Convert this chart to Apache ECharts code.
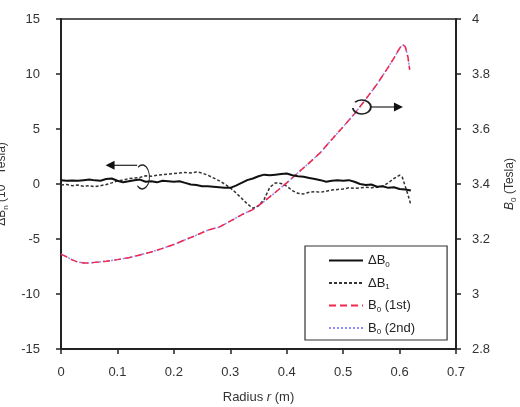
<!DOCTYPE html>
<html>
<head>
<meta charset="utf-8">
<script src="https://cdn.jsdelivr.net/npm/echarts@6/dist/echarts.min.js"></script>
<style>
html,body{margin:0;padding:0;background:#fff;}
#c{width:520px;height:407px;}
</style>
</head>
<body>
<div id="c"></div>
<script>
// Radius (m) and ΔB0 (10^-4 Tesla)
var rDB0 = [0,0.01,0.02,0.03,0.04,0.05,0.06,0.07,0.08,0.09,0.10,0.11,0.12,0.13,0.14,0.15,0.16,0.17,0.18,0.19,0.20,0.21,0.22,0.23,0.24,0.25,0.26,0.27,0.28,0.29,0.30,0.31,0.32,0.33,0.34,0.35,0.36,0.37,0.38,0.39,0.40,0.41,0.42,0.43,0.44,0.45,0.46,0.47,0.48,0.49,0.50,0.51,0.52,0.53,0.54,0.55,0.56,0.57,0.58,0.59,0.60,0.61,0.62];
var dB0 = [0.35,0.3,0.32,0.3,0.35,0.4,0.33,0.3,0.45,0.5,0.3,0.15,0.25,0.35,0.4,0.2,0.25,0.15,0.3,0.25,0.2,0.25,0.1,-0.05,-0.1,-0.2,-0.2,-0.25,-0.3,-0.35,-0.35,-0.15,0.1,0.35,0.5,0.7,0.85,0.8,0.85,0.9,0.95,0.8,0.7,0.65,0.55,0.45,0.35,0.2,0.3,0.35,0.3,0.35,0.2,0.0,-0.1,-0.05,-0.25,-0.2,-0.35,-0.3,-0.45,-0.5,-0.6];
// Radius (m) and ΔB1 (10^-4 Tesla)
var rDB1 = [0,0.01,0.02,0.03,0.04,0.05,0.06,0.07,0.08,0.09,0.10,0.11,0.12,0.13,0.14,0.15,0.16,0.17,0.18,0.19,0.20,0.21,0.22,0.23,0.24,0.25,0.26,0.27,0.28,0.29,0.30,0.31,0.32,0.33,0.34,0.35,0.36,0.37,0.38,0.39,0.40,0.41,0.42,0.43,0.44,0.45,0.46,0.47,0.48,0.49,0.50,0.51,0.52,0.53,0.54,0.55,0.56,0.57,0.58,0.59,0.60,0.605,0.61,0.615,0.62];
var dB1 = [-0.1,-0.05,-0.15,-0.1,-0.2,-0.15,-0.25,-0.15,-0.05,0.1,0.3,0.35,0.5,0.55,0.6,0.75,0.7,0.8,0.85,0.9,0.95,1.0,1.05,1.0,1.1,1.0,0.8,0.55,0.3,0.0,-0.35,-0.8,-1.3,-1.8,-2.2,-2.0,-1.4,-0.3,0.1,0.05,-0.2,-0.6,-0.85,-0.9,-0.75,-0.7,-0.75,-0.65,-0.55,-0.5,-0.45,-0.35,-0.4,-0.35,-0.3,-0.35,-0.3,-0.2,0.1,0.5,0.8,0.6,-0.2,-1.0,-1.9];
// Radius (m) and B0 (Tesla), first and second measurement
var rB0 = [0,0.01,0.02,0.03,0.04,0.05,0.06,0.08,0.10,0.12,0.14,0.16,0.18,0.20,0.22,0.24,0.26,0.28,0.30,0.32,0.34,0.36,0.38,0.40,0.42,0.44,0.46,0.48,0.50,0.52,0.54,0.56,0.58,0.59,0.60,0.605,0.61,0.615,0.618];
var b0First = [3.145,3.135,3.124,3.116,3.113,3.113,3.115,3.119,3.125,3.132,3.142,3.153,3.166,3.180,3.197,3.214,3.232,3.243,3.265,3.288,3.307,3.337,3.370,3.404,3.441,3.477,3.515,3.562,3.608,3.655,3.708,3.763,3.825,3.858,3.893,3.907,3.900,3.860,3.815];
var b0Second = [3.145,3.135,3.124,3.116,3.113,3.113,3.115,3.119,3.125,3.132,3.142,3.153,3.166,3.180,3.197,3.214,3.232,3.243,3.265,3.288,3.307,3.337,3.370,3.404,3.441,3.477,3.515,3.562,3.608,3.655,3.708,3.763,3.825,3.858,3.893,3.907,3.900,3.860,3.815];

function zip(a, b){ return a.map(function(v,i){ return [v, b[i]]; }); }

var FONT = 'Liberation Sans';
var AX = '#222';
var chart = echarts.init(document.getElementById('c'), null, {renderer:'canvas'});

var legendNames = ['dB0','dB1','B0a','B0b'];
var legendLabels = {
  dB0: '{t|ΔB}{s|0}',
  dB1: '{t|ΔB}{s|1}',
  B0a: '{t|B}{s|0}{t| (1st)}',
  B0b: '{t|B}{s|0}{t| (2nd)}'
};

var option = {
  animation: false,
  backgroundColor: '#fff',
  grid: {left: 61, right: 64, top: 19, bottom: 58, containLabel: false, outerBoundsMode: 'none',
    show: true, borderColor: AX, borderWidth: 1.5, backgroundColor: 'transparent'},
  legend: {
    data: legendNames,
    orient: 'vertical',
    left: 305, top: 246,
    padding: [8, 32, 4, 23],
    itemGap: 8,
    itemWidth: 34,
    itemHeight: 14,
    backgroundColor: '#fff',
    borderColor: '#333',
    borderWidth: 1.2,
    borderRadius: 0,
    itemStyle: {opacity: 0},
    formatter: function(n){ return legendLabels[n]; },
    textStyle: {
      fontFamily: FONT, fontSize: 13, color: '#222',
      rich: {
        t: {fontFamily: FONT, fontSize: 13, color: '#222', lineHeight: 16},
        s: {fontFamily: FONT, fontSize: 8, color: '#222', verticalAlign: 'bottom', lineHeight: 12, padding:[4,0,0,0]}
      }
    }
  },
  xAxis: {
    type: 'value', min: 0, max: 0.7, interval: 0.1,
    axisLine: {show: true, onZero: false, lineStyle: {color: AX, width: 2}},
    axisTick: {show: true, inside: false, length: 5, lineStyle: {color: AX, width: 1.5}},
    splitLine: {show: false},
    axisLabel: {margin: 17, fontFamily: FONT, fontSize: 13, color: '#333'},
    name: '{t|Radius }{i|r}{t| (m)}',
    nameLocation: 'middle',
    nameGap: 42,
    nameTextStyle: {
      fontFamily: FONT, fontSize: 13, color: '#333',
      rich: {
        t: {fontFamily: FONT, fontSize: 13, color: '#333'},
        i: {fontFamily: FONT, fontSize: 13, color: '#333', fontStyle: 'italic'}
      }
    }
  },
  yAxis: [{
    type: 'value', min: -15, max: 15, interval: 5, position: 'left',
    axisLine: {show: true, onZero: false, lineStyle: {color: AX, width: 2}},
    axisTick: {show: true, inside: false, length: 5, lineStyle: {color: AX, width: 1.5}},
    splitLine: {show: false},
    axisLabel: {margin: 21, fontFamily: FONT, fontSize: 13, color: '#333'},
    name: '{t|ΔB}{s|n}{t| (10}{p|-4}{t| Tesla)}',
    nameLocation: 'middle',
    nameRotate: 90,
    nameGap: 51,
    nameTextStyle: {
      fontFamily: FONT, fontSize: 12, color: '#333',
      rich: {
        t: {fontFamily: FONT, fontSize: 12, color: '#333', lineHeight: 16},
        s: {fontFamily: FONT, fontSize: 8, color: '#333', verticalAlign: 'bottom', lineHeight: 12},
        p: {fontFamily: FONT, fontSize: 8, color: '#333', verticalAlign: 'top', lineHeight: 12}
      }
    }
  }, {
    type: 'value', min: 2.8, max: 4, interval: 0.2, position: 'right',
    axisLine: {show: true, onZero: false, lineStyle: {color: AX, width: 2}},
    axisTick: {show: true, inside: false, length: 5, lineStyle: {color: AX, width: 1.5}},
    splitLine: {show: false},
    axisLabel: {margin: 16, fontFamily: FONT, fontSize: 13, color: '#333',
      formatter: function(v){ return String(Math.round(v*10)/10); }},
    name: '{i|B}{s|0}{t| (Tesla)}',
    nameLocation: 'middle',
    nameRotate: 90,
    nameGap: 46,
    nameTextStyle: {
      fontFamily: FONT, fontSize: 12, color: '#333',
      rich: {
        t: {fontFamily: FONT, fontSize: 12, color: '#333', lineHeight: 16},
        i: {fontFamily: FONT, fontSize: 12, color: '#333', fontStyle: 'italic', lineHeight: 16},
        s: {fontFamily: FONT, fontSize: 8, color: '#333', verticalAlign: 'bottom', lineHeight: 12}
      }
    }
  }],
  series: [{
    name: 'dB0', type: 'line', yAxisIndex: 0, data: zip(rDB0, dB0),
    showSymbol: false, symbol: 'none', z: 5,
    lineStyle: {color: '#111', width: 2, type: 'solid'},
    itemStyle: {color: '#111'}
  }, {
    name: 'dB1', type: 'line', yAxisIndex: 0, data: zip(rDB1, dB1),
    showSymbol: false, symbol: 'none', z: 4,
    lineStyle: {color: '#333', width: 1.5, type: [3, 2]},
    itemStyle: {color: '#333'}
  }, {
    name: 'B0a', type: 'line', yAxisIndex: 1, data: zip(rB0, b0First),
    showSymbol: false, symbol: 'none', z: 4,
    lineStyle: {color: '#f0284e', width: 1.5, type: [7, 4]},
    itemStyle: {color: '#f0284e'}
  }, {
    name: 'B0b', type: 'line', yAxisIndex: 1, data: zip(rB0, b0Second),
    showSymbol: false, symbol: 'none', z: 3,
    lineStyle: {color: '#8c8cff', width: 1.5, type: [2, 2]},
    itemStyle: {color: '#8c8cff'}
  }]
};
chart.setOption(option);

// Annotation arrows & loops, positioned in data space
function px(axisIdx, pt){ return chart.convertToPixel({xAxisIndex: 0, yAxisIndex: axisIdx}, pt); }
var lTail = px(0, [0.135, 1.7]), lHead = px(0, [0.079, 1.7]), lLoop = px(0, [0.144, 0.64]);
var rTail = px(1, [0.548, 3.68]), rHead = px(1, [0.606, 3.68]), rLoop = px(1, [0.533, 3.68]);

function arrow(tail, head){
  var dir = head[0] > tail[0] ? 1 : -1;
  return [{
    type: 'line', z: 10, silent: true,
    shape: {x1: tail[0], y1: tail[1], x2: head[0] - dir*7, y2: head[1]},
    style: {stroke: '#222', lineWidth: 1.2}
  }, {
    type: 'polygon', z: 10, silent: true,
    shape: {points: [[head[0], head[1]], [head[0] - dir*9, head[1] - 4.5], [head[0] - dir*9, head[1] + 4.5]]},
    style: {fill: '#111'}
  }];
}
var g = [];
g = g.concat(arrow(lTail, lHead));
g = g.concat(arrow(rTail, rHead));
g.push({
  type: 'arc', z: 10, silent: true,
  x: lLoop[0], y: lLoop[1], scaleX: 0.6, scaleY: 1,
  shape: {cx: 0, cy: 0, r: 12, startAngle: -2.2, endAngle: 2.3, clockwise: true},
  style: {stroke: '#222', lineWidth: 1.5, fill: null}
});
g.push({
  type: 'arc', z: 10, silent: true,
  x: rLoop[0], y: rLoop[1], scaleX: 1.3, scaleY: 1,
  shape: {cx: 0, cy: 0, r: 7, startAngle: -2.4, endAngle: 3.0, clockwise: true},
  style: {stroke: '#222', lineWidth: 1.5, fill: null}
});
chart.setOption({graphic: g});
</script>
</body>
</html>
